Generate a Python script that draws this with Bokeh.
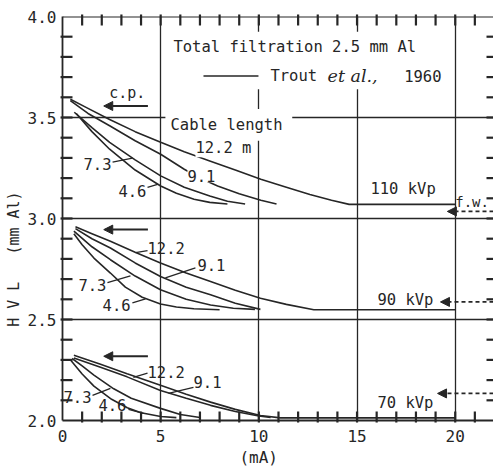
import math
from bokeh.plotting import figure
from bokeh.models import (Range1d, SingleIntervalTicker, Label, Arrow,
                          NormalHead, BoxAnnotation, PrintfTickFormatter)
from bokeh.embed import file_html
from bokeh.resources import INLINE

# ---------------- data (mA vs HVL in mm Al) ----------------
# 110 kVp
ma_110_122 = [0.4, 1.2, 2.4, 3.7, 5.0, 6.2, 7.5, 8.8, 10.1, 11.4, 12.6, 13.7, 14.6, 20.0]
hvl_110_122 = [3.59, 3.55, 3.49, 3.43, 3.377, 3.33, 3.285, 3.24, 3.194, 3.155, 3.119, 3.09, 3.07, 3.07]
ma_110_91 = [0.4, 1.3, 2.4, 3.7, 5.0, 6.2, 7.0, 7.9, 9.0, 10.1, 10.9]
hvl_110_91 = [3.584, 3.52, 3.459, 3.385, 3.318, 3.244, 3.20, 3.161, 3.123, 3.09, 3.072]
ma_110_73 = [0.6, 1.5, 2.4, 3.7, 5.0, 6.2, 7.5, 8.4, 9.3]
hvl_110_73 = [3.526, 3.45, 3.377, 3.29, 3.211, 3.155, 3.111, 3.085, 3.072]
ma_110_46 = [0.7, 1.5, 2.4, 3.7, 5.0, 5.8, 6.7, 7.5, 8.4]
hvl_110_46 = [3.52, 3.43, 3.343, 3.24, 3.161, 3.125, 3.095, 3.08, 3.072]

# 90 kVp
ma_90_122 = [0.66, 1.5, 2.44, 3.7, 4.99, 6.3, 7.54, 8.8, 10.08, 11.4, 12.8, 20.0]
hvl_90_122 = [2.959, 2.925, 2.887, 2.833, 2.78, 2.73, 2.688, 2.645, 2.605, 2.575, 2.548, 2.548]
ma_90_91 = [0.66, 1.5, 2.44, 3.7, 4.99, 6.3, 7.54, 8.8, 10.08]
hvl_90_91 = [2.95, 2.90, 2.854, 2.78, 2.713, 2.66, 2.622, 2.58, 2.55]
ma_90_73 = [0.58, 1.5, 2.44, 3.7, 4.99, 6.3, 7.54, 8.7, 9.8]
hvl_90_73 = [2.937, 2.86, 2.796, 2.715, 2.647, 2.60, 2.572, 2.556, 2.55]
ma_90_46 = [0.58, 1.0, 1.6, 2.44, 3.2, 4.06, 4.99, 5.8, 6.69, 8.0]
hvl_90_46 = [2.925, 2.87, 2.804, 2.73, 2.66, 2.61, 2.577, 2.562, 2.553, 2.548]

# 70 kVp
ma_70_122 = [0.58, 1.9, 3.29, 4.99, 6.3, 7.54, 8.8, 10.08, 11.1, 20.0]
hvl_70_122 = [2.323, 2.28, 2.232, 2.174, 2.13, 2.091, 2.055, 2.025, 2.013, 2.013]
ma_70_91 = [0.58, 1.9, 3.29, 4.99, 6.3, 7.54, 8.8, 10.0, 10.6]
hvl_70_91 = [2.31, 2.265, 2.216, 2.149, 2.11, 2.075, 2.045, 2.022, 2.015]
ma_70_73 = [0.49, 1.0, 1.6, 2.61, 3.5, 4.99, 6.0, 7.0]
hvl_70_73 = [2.307, 2.27, 2.225, 2.157, 2.11, 2.06, 2.03, 2.015]
ma_70_46 = [0.41, 1.0, 1.6, 2.5, 3.3, 4.0, 5.0, 5.8]
hvl_70_46 = [2.30, 2.23, 2.17, 2.105, 2.063, 2.038, 2.02, 2.014]

x_ticks_major = 5
y_ticks_major = 0.5

INK = "#262626"
FONT = "DejaVu Sans Mono"
NB = "\u00a0"

X_END = 21.95
p = figure(width=493, height=469, x_range=Range1d(0, X_END), y_range=Range1d(2.0, 4.0),
           output_backend="svg", toolbar_location=None,
           min_border_left=62, min_border_right=0, min_border_top=16, min_border_bottom=49)
p.background_fill_color = "white"
p.border_fill_color = "white"
p.outline_line_color = None

p.xaxis[0].ticker = SingleIntervalTicker(interval=x_ticks_major, num_minor_ticks=5)
p.yaxis[0].ticker = SingleIntervalTicker(interval=y_ticks_major, num_minor_ticks=5)
p.yaxis[0].formatter = PrintfTickFormatter(format="%.1f")

for ax, standoff in ((p.xaxis[0], 9), (p.yaxis[0], 6)):
    ax.axis_line_color = INK
    ax.axis_line_width = 1.8
    ax.major_tick_in = 0
    ax.major_tick_out = 0
    ax.minor_tick_in = 0
    ax.minor_tick_out = 0
    ax.major_label_text_font = FONT
    ax.major_label_text_font_size = "16px"
    ax.major_label_text_color = INK
    ax.major_label_standoff = standoff
    ax.axis_label_text_font = FONT
    ax.axis_label_text_font_style = "normal"
    ax.axis_label_text_color = INK

p.xaxis[0].axis_label = "(mA)" + NB * 4
p.xaxis[0].axis_label_text_font_size = "16px"
p.xaxis[0].axis_label_standoff = 3
p.yaxis[0].axis_label = "H" + NB + "V" + NB + "L" + NB * 3 + "(mm" + NB + "Al)" + NB * 9
p.yaxis[0].axis_label_text_font_size = "15px"
p.yaxis[0].axis_label_standoff = 2

p.xgrid.ticker = SingleIntervalTicker(interval=x_ticks_major)
p.ygrid.ticker = SingleIntervalTicker(interval=y_ticks_major)
p.xgrid.grid_line_color = INK
p.xgrid.grid_line_width = 1.3
p.ygrid.grid_line_color = INK
p.ygrid.grid_line_width = 1.3

# inward minor ticks on all four sides: positions every 1 mA and every 0.1 mm Al
px_x = 431.0 / X_END   # pixels per mA
px_y = 404.0 / 2.0     # pixels per mm Al
tick_x = [float(v) for v in range(1, 22)]
tick_y = [round(2.0 + 0.1 * i, 2) for i in range(1, 20)]
tx0, tx1, ty0, ty1 = [], [], [], []
for tx in tick_x:
    tx0 += [tx, tx]
    tx1 += [tx, tx]
    ty0 += [1.99, 4.01]
    ty1 += [2.0 + 9 / px_y, 4.0 - 9 / px_y]
for ty in tick_y:
    tx0 += [-0.1, X_END + 0.1]
    tx1 += [10 / px_x, X_END - 7 / px_x]
    ty0 += [ty, ty]
    ty1 += [ty, ty]
tk = p.segment(x0=tx0, y0=ty0, x1=tx1, y1=ty1, line_color=INK, line_width=2.2)
tk.level = "overlay"

# curves
series = [
    (ma_110_122, hvl_110_122), (ma_110_91, hvl_110_91), (ma_110_73, hvl_110_73), (ma_110_46, hvl_110_46),
    (ma_90_122, hvl_90_122), (ma_90_91, hvl_90_91), (ma_90_73, hvl_90_73), (ma_90_46, hvl_90_46),
    (ma_70_122, hvl_70_122), (ma_70_91, hvl_70_91), (ma_70_73, hvl_70_73), (ma_70_46, hvl_70_46),
]
for xs, ys in series:
    p.line(xs, ys, line_color=INK, line_width=1.6)

# top border of the frame
p.add_layout(Arrow(end=None, start=None, x_start=0.0, y_start=4.0, x_end=X_END, y_end=4.0,
                   line_color=INK, line_width=1.8))

# white masks for title block and "Cable length"
p.add_layout(BoxAnnotation(left=5.3, right=19.6, top=3.925, bottom=3.64,
                           fill_color="white", fill_alpha=1.0, line_color=None))
p.add_layout(BoxAnnotation(left=5.24, right=11.7, top=3.542, bottom=3.385,
                           fill_color="white", fill_alpha=1.0, line_color=None))


def txt(x, y, s, size="15px", align="left", bg=None, style="normal", font=FONT):
    lab = Label(x=x, y=y, text=s, text_font=font, text_font_size=size,
                text_color=INK, text_align=align, text_baseline="middle",
                text_font_style=style)
    if bg:
        lab.background_fill_color = bg
        lab.background_fill_alpha = 1.0
    p.add_layout(lab)


txt(5.65, 3.851, "Total filtration 2.5 mm Al", "15.5px")
p.add_layout(Arrow(end=None, start=None, x_start=7.18, y_start=3.706, x_end=9.98, y_end=3.706,
                   line_color=INK, line_width=1.5))
txt(10.59, 3.706, "Trout", "15.5px")
txt(13.5, 3.706, "et al.,", "17.5px", style="italic", font="DejaVu Serif")
txt(17.4, 3.706, "1960", "15.5px")
txt(5.5, 3.463, "Cable length", "15.5px")
txt(3.3, 3.62, "c.p.", "15px", align="center")

# cable length labels
txt(6.77, 3.348, "12.2 m", "15.5px", bg="white")
txt(6.36, 3.209, "9.1", "15.5px", bg="white")
txt(1.07, 3.269, "7.3", "15.5px")
txt(2.85, 3.134, "4.6", "15.5px")

txt(4.33, 2.856, "12.2", "15.5px")
txt(6.87, 2.771, "9.1", "15.5px")
txt(0.81, 2.672, "7.3", "15.5px")
txt(2.04, 2.572, "4.6", "15.5px")

txt(4.33, 2.239, "12.2", "15.5px")
txt(6.67, 2.189, "9.1", "15.5px")
txt(0.05, 2.114, "7.3", "15.5px")
txt(1.83, 2.075, "4.6", "15.5px")

# leader lines
leaders = [
    (2.55, 3.279, 3.56, 3.299), (4.33, 3.154, 4.84, 3.169),
    (3.72, 2.831, 4.33, 2.841), (5.24, 2.706, 6.77, 2.756),
    (2.29, 2.682, 3.46, 2.716), (3.56, 2.582, 4.23, 2.602),
    (3.61, 2.214, 4.33, 2.234), (5.40, 2.134, 6.67, 2.164),
    (1.53, 2.124, 2.44, 2.159), (3.36, 2.055, 4.12, 2.035),
]
p.segment(x0=[l[0] for l in leaders], y0=[l[1] for l in leaders],
          x1=[l[2] for l in leaders], y1=[l[3] for l in leaders],
          line_color=INK, line_width=1.3)

# kVp labels
txt(15.68, 3.144, "110 kVp", "15.5px")
txt(16.04, 2.597, "90 kVp", "15.5px")
txt(16.04, 2.085, "70 kVp", "15.5px")
txt(20.0, 3.08, "f.w.", "14px")

# arrows (c.p.) pointing left
for yy in (3.557, 2.945, 2.318):
    p.add_layout(Arrow(end=NormalHead(size=9, fill_color=INK, line_color=INK),
                       x_start=4.35, y_start=yy, x_end=2.1, y_end=yy,
                       line_color=INK, line_width=2))
# f.w. arrows (dashed shafts) from right edge
for yy, xe in ((3.035, 19.6), (2.587, 19.25), (2.134, 19.1)):
    p.add_layout(Arrow(end=NormalHead(size=9, fill_color=INK, line_color=INK),
                       x_start=X_END, y_start=yy, x_end=xe, y_end=yy,
                       line_color=INK, line_width=1.8, line_dash="4 3"))

open("out.html", "w").write(file_html(p, INLINE))
